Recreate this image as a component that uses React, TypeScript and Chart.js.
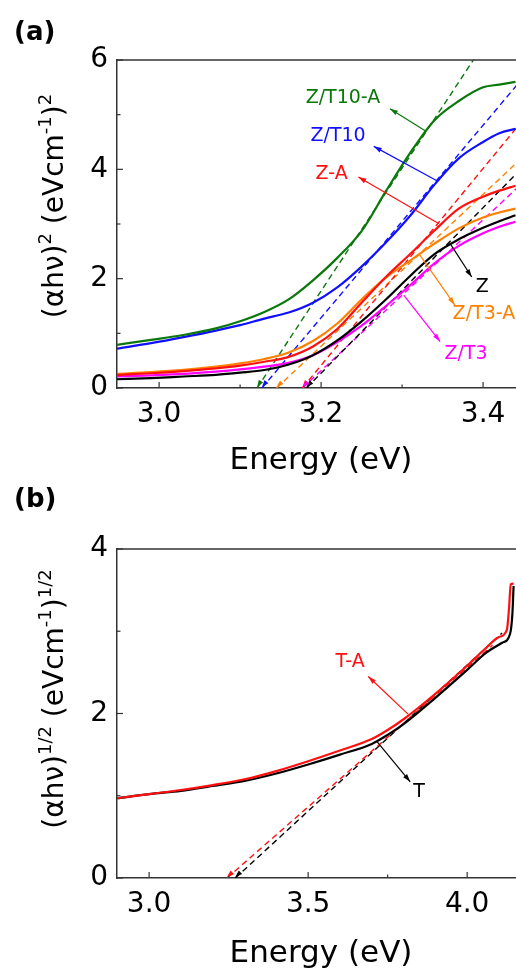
import React, { useEffect, useRef } from 'react';
import { Chart, registerables } from 'chart.js';

Chart.register(...registerables);

const FONT = '"DejaVu Sans", "Liberation Sans", sans-serif';
const AXIS_COLOR = '#333333';

// ---------- Panel (a) data ----------
const energyA = [2.948, 2.99, 3.03, 3.07, 3.10, 3.13, 3.16, 3.19, 3.22, 3.25, 3.28, 3.31, 3.34, 3.37, 3.40, 3.42, 3.44];
const zt10a = [0.79, 0.88, 0.97, 1.09, 1.22, 1.39, 1.62, 1.97, 2.38, 2.87, 3.60, 4.30, 4.90, 5.25, 5.50, 5.55, 5.60];
const zt10 = [0.72, 0.82, 0.93, 1.05, 1.15, 1.27, 1.38, 1.56, 1.84, 2.22, 2.66, 3.15, 3.72, 4.20, 4.50, 4.66, 4.74];
const za = [0.24, 0.27, 0.31, 0.36, 0.41, 0.48, 0.57, 0.76, 1.08, 1.56, 2.03, 2.45, 2.88, 3.28, 3.50, 3.61, 3.70];
const zt3a = [0.26, 0.29, 0.33, 0.39, 0.45, 0.53, 0.65, 0.86, 1.18, 1.62, 2.02, 2.33, 2.64, 2.92, 3.12, 3.21, 3.28];
const z = [0.16, 0.18, 0.21, 0.24, 0.28, 0.33, 0.43, 0.60, 0.87, 1.22, 1.62, 2.05, 2.45, 2.72, 2.93, 3.05, 3.16];
const zt3 = [0.21, 0.23, 0.26, 0.30, 0.34, 0.39, 0.46, 0.60, 0.84, 1.14, 1.50, 1.88, 2.28, 2.60, 2.83, 2.95, 3.04];

const seriesNamesA = ['Z/T10-A', 'Z/T10', 'Z-A', 'Z/T3-A', 'Z', 'Z/T3'];
const seriesValuesA = [zt10a, zt10, za, zt3a, z, zt3];
const seriesColorsA = ['#0a780a', '#1010ff', '#ff1010', '#ff8000', '#000000', '#ff00ff'];

// tangent (extrapolation) lines, panel (a): start at y = 0
const tangentStartXA = [3.121, 3.127, 3.177, 3.145, 3.182, 3.177];
const tangentEndXA = [3.388, 3.453, 3.453, 3.453, 3.453, 3.453];
const tangentEndYA = [6.0, 5.74, 4.97, 4.28, 4.10, 3.81];

// annotation labels, panel (a) (data coordinates)
const labelXA = [3.227, 3.221, 3.213, 3.401, 3.399, 3.379];
const labelYA = [5.30, 4.60, 3.91, 1.35, 1.84, 0.62];
const arrowFromXA = [3.330, 3.343, 3.345, 3.322, 3.359, 3.302];
const arrowFromYA = [4.69, 3.79, 3.01, 2.43, 2.65, 1.70];
const arrowToXA = [3.285, 3.265, 3.246, 3.365, 3.386, 3.347];
const arrowToYA = [5.11, 4.42, 3.86, 1.52, 2.03, 0.85];

// ---------- Panel (b) data ----------
const energyT = [2.90, 3.00, 3.10, 3.20, 3.30, 3.40, 3.50, 3.60, 3.70, 3.75, 3.80, 3.90, 4.00, 4.06, 4.11, 4.135, 4.142, 4.146];
const valuesT = [0.97, 1.02, 1.06, 1.12, 1.18, 1.27, 1.38, 1.50, 1.63, 1.74, 1.87, 2.19, 2.53, 2.74, 2.86, 2.97, 3.20, 3.55];
const energyTA = [2.90, 3.00, 3.10, 3.20, 3.30, 3.40, 3.50, 3.60, 3.70, 3.75, 3.80, 3.90, 4.00, 4.06, 4.10, 4.125, 4.132, 4.137, 4.146];
const valuesTA = [0.97, 1.02, 1.07, 1.13, 1.20, 1.30, 1.42, 1.55, 1.69, 1.80, 1.93, 2.24, 2.58, 2.80, 2.93, 3.02, 3.30, 3.57, 3.58];

const tangentStartXB = [3.245, 3.271];
const tangentEndXB = [4.08, 4.11];
const tangentEndYB = [2.83, 2.98];

const seriesNamesB = ['T-A', 'T'];
const seriesColorsB = ['#ff1010', '#000000'];
const labelXB = [3.632, 3.849];
const labelYB = [2.62, 1.04];
const arrowFromXB = [3.815, 3.716];
const arrowFromYB = [1.99, 1.66];
const arrowToXB = [3.689, 3.821];
const arrowToYB = [2.45, 1.17];

// ---------- helpers ----------
type Part = [string, boolean];

interface Spec {
  top: number;
  letter: string;
  letterBaseline: number;
  yTitle: Part[];
  yTitleCenter: number;
  xTitleBaseline: number;
  padTop: number;
  xAxisHeight: number;
  xMin: number;
  xMax: number;
  xStep: number;
  yMax: number;
  yStep: number;
  xMajor: number[];
  xMinor: number[];
  yMajor: number[];
  yMinor: number[];
  datasets: any[];
  tangents: { color: string; x0: number; x1: number; y1: number }[];
  annotations: { text: string; color: string; tx: number; ty: number; fx: number; fy: number; ax: number; ay: number }[];
}

function drawArrowHead(ctx: CanvasRenderingContext2D, x1: number, y1: number, x2: number, y2: number, len: number, w: number, color: string) {
  const ang = Math.atan2(y2 - y1, x2 - x1);
  ctx.save();
  ctx.fillStyle = color;
  ctx.translate(x2, y2);
  ctx.rotate(ang);
  ctx.beginPath();
  ctx.moveTo(0, 0);
  ctx.lineTo(-len, w / 2);
  ctx.lineTo(-len, -w / 2);
  ctx.closePath();
  ctx.fill();
  ctx.restore();
}

function makePlugin(spec: Spec) {
  return {
    id: 'decor',
    afterDraw(chart: any) {
      const ctx: CanvasRenderingContext2D = chart.ctx;
      const { left, right, top, bottom } = chart.chartArea;
      const xs = chart.scales.x;
      const ys = chart.scales.y;
      ctx.save();
      // top border
      ctx.strokeStyle = AXIS_COLOR;
      ctx.lineWidth = 1.5;
      ctx.beginPath();
      ctx.moveTo(left, top);
      ctx.lineTo(right, top);
      ctx.stroke();
      // inward ticks
      ctx.lineWidth = 1.2;
      const tick = (vals: number[], len: number, horiz: boolean) => {
        vals.forEach((v) => {
          ctx.beginPath();
          if (horiz) {
            const px = xs.getPixelForValue(v);
            ctx.moveTo(px, bottom);
            ctx.lineTo(px, bottom - len);
          } else {
            const py = ys.getPixelForValue(v);
            ctx.moveTo(left, py);
            ctx.lineTo(left + len, py);
          }
          ctx.stroke();
        });
      };
      tick(spec.xMajor, 6, true);
      tick(spec.xMinor, 3.5, true);
      tick(spec.yMajor, 6, false);
      tick(spec.yMinor, 3.5, false);

      // arrowheads on tangent lines
      ctx.save();
      ctx.beginPath();
      ctx.rect(left, top - 4, right - left, bottom - top + 4);
      ctx.clip();
      spec.tangents.forEach((t) => {
        const p0x = xs.getPixelForValue(t.x0);
        const p0y = ys.getPixelForValue(0);
        const p1x = xs.getPixelForValue(t.x1);
        const p1y = ys.getPixelForValue(t.y1);
        drawArrowHead(ctx, p1x, p1y, p0x, p0y - 1, 7, 5, t.color);
      });
      ctx.restore();

      // annotations
      spec.annotations.forEach((a) => {
        const fx = xs.getPixelForValue(a.fx);
        const fy = ys.getPixelForValue(a.fy);
        const ax = xs.getPixelForValue(a.ax);
        const ay = ys.getPixelForValue(a.ay);
        ctx.strokeStyle = a.color;
        ctx.lineWidth = 1.2;
        ctx.beginPath();
        ctx.moveTo(fx, fy);
        ctx.lineTo(ax, ay);
        ctx.stroke();
        drawArrowHead(ctx, fx, fy, ax, ay, 8, 5, a.color);
        ctx.fillStyle = a.color;
        ctx.font = `19px ${FONT}`;
        ctx.textAlign = 'center';
        ctx.textBaseline = 'middle';
        ctx.fillText(a.text, xs.getPixelForValue(a.tx), ys.getPixelForValue(a.ty));
      });

      // x title
      ctx.fillStyle = '#000';
      ctx.font = `31px ${FONT}`;
      ctx.textAlign = 'center';
      ctx.textBaseline = 'alphabetic';
      ctx.fillText('Energy (eV)', 321, spec.xTitleBaseline);

      // panel letter
      ctx.font = `bold 26px ${FONT}`;
      ctx.textAlign = 'left';
      ctx.fillText(spec.letter, 14, spec.letterBaseline);

      // y title (rotated, with superscripts)
      const mainFont = `28px ${FONT}`;
      const supFont = `18px ${FONT}`;
      let total = 0;
      spec.yTitle.forEach(([t, sup]) => {
        ctx.font = sup ? supFont : mainFont;
        total += ctx.measureText(t).width;
      });
      ctx.translate(63, spec.yTitleCenter);
      ctx.rotate(-Math.PI / 2);
      let cx = -total / 2;
      spec.yTitle.forEach(([t, sup]) => {
        ctx.font = sup ? supFont : mainFont;
        ctx.fillText(t, cx, sup ? -12 : 0);
        cx += ctx.measureText(t).width;
      });
      ctx.restore();
    },
  };
}

function buildConfig(spec: Spec): any {
  return {
    type: 'line',
    data: { datasets: spec.datasets },
    options: {
      animation: false,
      responsive: false,
      maintainAspectRatio: false,
      events: [],
      layout: { padding: { top: spec.padTop, right: 4, left: 0, bottom: 0 } },
      plugins: { legend: { display: false }, tooltip: { enabled: false }, title: { display: false } },
      elements: { point: { radius: 0 } },
      scales: {
        x: {
          type: 'linear',
          min: spec.xMin,
          max: spec.xMax,
          afterFit: (s: any) => {
            s.height = spec.xAxisHeight;
            s.paddingLeft = 0;
            s.paddingRight = 0;
          },
          grid: { display: false, drawTicks: false },
          border: { display: true, color: AXIS_COLOR, width: 1.5 },
          ticks: {
            stepSize: spec.xStep,
            includeBounds: false,
            padding: 10,
            color: '#000',
            maxRotation: 0,
            autoSkip: false,
            font: { family: FONT, size: 28 },
            callback: (v: any) => Number(v).toFixed(1),
          },
        },
        y: {
          type: 'linear',
          min: 0,
          max: spec.yMax,
          afterFit: (s: any) => {
            s.width = 117;
          },
          grid: { display: false, drawTicks: false },
          border: { display: true, color: AXIS_COLOR, width: 1.5 },
          ticks: {
            stepSize: spec.yStep,
            padding: 9,
            color: '#000',
            font: { family: FONT, size: 28 },
            callback: (v: any) => String(Math.round(Number(v))),
          },
        },
      },
    },
    plugins: [makePlugin(spec)],
  };
}

function solid(label: string, xs: number[], ys: number[], color: string) {
  return {
    label,
    data: xs.map((x, i) => ({ x, y: ys[i] })),
    borderColor: color,
    backgroundColor: color,
    borderWidth: 2.2,
    pointRadius: 0,
    cubicInterpolationMode: 'monotone',
    fill: false,
  };
}

function dashed(label: string, x0: number, x1: number, y1: number, color: string) {
  return {
    label,
    data: [
      { x: x0, y: 0 },
      { x: x1, y: y1 },
    ],
    borderColor: color,
    borderWidth: 1.4,
    borderDash: [6, 4],
    pointRadius: 0,
    tension: 0,
    fill: false,
  };
}

const specA: Spec = {
  top: 0,
  letter: '(a)',
  letterBaseline: 40,
  yTitle: [
    ['(αhν)', false],
    ['2', true],
    [' (eVcm', false],
    ['-1', true],
    [')', false],
    ['2', true],
  ],
  yTitleCenter: 206,
  xTitleBaseline: 469,
  padTop: 60,
  xAxisHeight: 96,
  xMin: 2.948,
  xMax: 3.453,
  xStep: 0.2,
  yMax: 6,
  yStep: 2,
  xMajor: [3.0, 3.2, 3.4],
  xMinor: [3.1, 3.3],
  yMajor: [0, 2, 4, 6],
  yMinor: [1, 3, 5],
  datasets: [
    ...seriesNamesA.map((n, i) => solid(n, energyA, seriesValuesA[i], seriesColorsA[i])),
    ...seriesNamesA.map((n, i) =>
      dashed(n + ' fit', tangentStartXA[i], tangentEndXA[i], tangentEndYA[i], seriesColorsA[i])
    ),
  ],
  tangents: seriesNamesA.map((_, i) => ({
    color: seriesColorsA[i],
    x0: tangentStartXA[i],
    x1: tangentEndXA[i],
    y1: tangentEndYA[i],
  })),
  annotations: seriesNamesA.map((n, i) => ({
    text: n,
    color: seriesColorsA[i],
    tx: labelXA[i],
    ty: labelYA[i],
    fx: arrowFromXA[i],
    fy: arrowFromYA[i],
    ax: arrowToXA[i],
    ay: arrowToYA[i],
  })),
};

const specB: Spec = {
  top: 484,
  letter: '(b)',
  letterBaseline: 23,
  yTitle: [
    ['(αhν)', false],
    ['1/2', true],
    [' (eVcm', false],
    ['-1', true],
    [')', false],
    ['1/2', true],
  ],
  yTitleCenter: 215,
  xTitleBaseline: 478,
  padTop: 65,
  xAxisHeight: 90,
  xMin: 2.899,
  xMax: 4.185,
  xStep: 0.5,
  yMax: 4,
  yStep: 2,
  xMajor: [3.0, 3.5, 4.0],
  xMinor: [3.25, 3.75],
  yMajor: [0, 2, 4],
  yMinor: [1, 3],
  datasets: [
    solid('T-A', energyTA, valuesTA, seriesColorsB[0]),
    solid('T', energyT, valuesT, seriesColorsB[1]),
    ...seriesNamesB.map((n, i) =>
      dashed(n + ' fit', tangentStartXB[i], tangentEndXB[i], tangentEndYB[i], seriesColorsB[i])
    ),
  ],
  tangents: seriesNamesB.map((_, i) => ({
    color: seriesColorsB[i],
    x0: tangentStartXB[i],
    x1: tangentEndXB[i],
    y1: tangentEndYB[i],
  })),
  annotations: seriesNamesB.map((n, i) => ({
    text: n,
    color: seriesColorsB[i],
    tx: labelXB[i],
    ty: labelYB[i],
    fx: arrowFromXB[i],
    fy: arrowFromYB[i],
    ax: arrowToXB[i],
    ay: arrowToYB[i],
  })),
};

function Panel({ spec }: { spec: Spec }) {
  const ref = useRef<HTMLCanvasElement>(null);
  useEffect(() => {
    const chart = new Chart(ref.current as HTMLCanvasElement, buildConfig(spec));
    return () => chart.destroy();
  }, [spec]);
  return (
    <canvas
      ref={ref}
      width={530}
      height={484}
      style={{ position: 'absolute', left: 0, top: spec.top, width: 530, height: 484, display: 'block' }}
    />
  );
}

export default function App() {
  return (
    <div
      style={{
        position: 'absolute',
        left: 0,
        top: 0,
        width: 516,
        height: 968,
        overflow: 'hidden',
        background: '#ffffff',
      }}
    >
      <Panel spec={specA} />
      <Panel spec={specB} />
    </div>
  );
}
